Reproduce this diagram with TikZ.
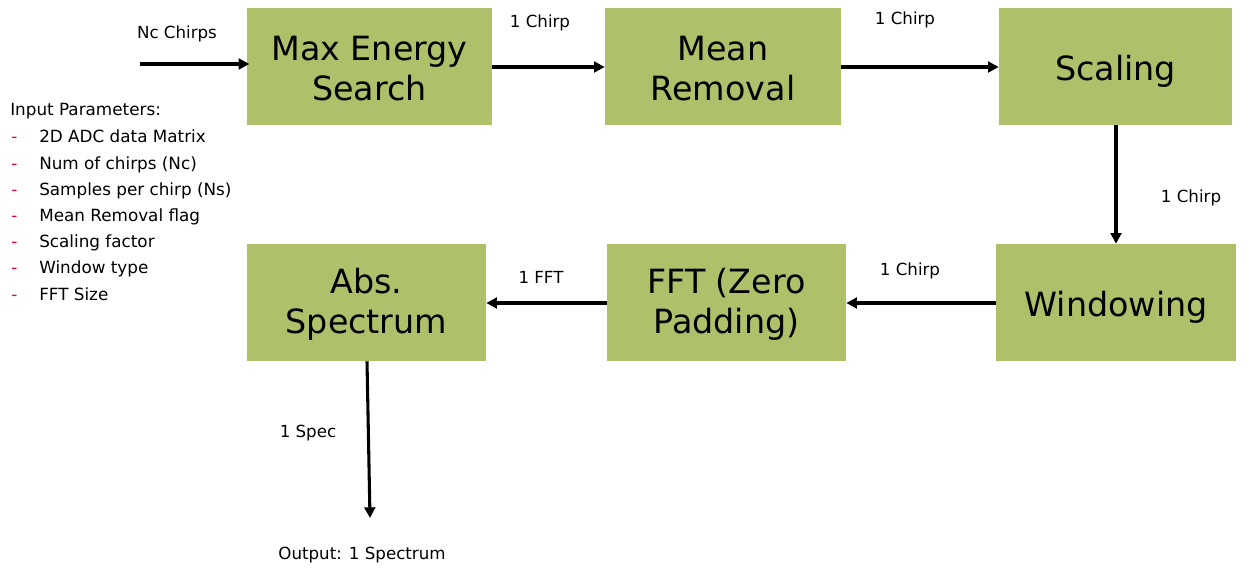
\documentclass[tikz,border=0pt]{standalone}
\usepackage{fontspec}
\setmainfont{DejaVu Sans}
\usetikzlibrary{arrows.meta}
\definecolor{boxgreen}{RGB}{175,192,107}
\definecolor{dashred}{RGB}{225,0,75}
\begin{document}
\begin{tikzpicture}[x=0.75pt,y=-0.75pt,
  blk/.style={fill=boxgreen,draw=none,inner sep=0pt},
  btxt/.style={inner sep=0pt,align=center,font=\fontsize{25}{30}\selectfont},
  lbl/.style={font=\fontsize{12.5}{15}\selectfont,inner sep=0pt},
  arr/.style={line width=2.3pt,-{Triangle[length=8pt,width=8pt]}},
  par/.style={font=\fontsize{12.6}{15}\selectfont,inner sep=0pt,anchor=base west}]
\useasboundingbox (0,0) rectangle (1249,573);
\node[blk,minimum width=245*0.75pt,minimum height=117*0.75pt] (mes) at (369.5,66.5) {};
\node[blk,minimum width=236*0.75pt,minimum height=117*0.75pt] (mr) at (723,66.5) {};
\node[blk,minimum width=233*0.75pt,minimum height=117*0.75pt] (sc) at (1115.5,66.5) {};
\node[blk,minimum width=240*0.75pt,minimum height=117*0.75pt] (win) at (1116,302.5) {};
\node[blk,minimum width=239*0.75pt,minimum height=117*0.75pt] (fft) at (726.5,302.5) {};
\node[blk,minimum width=239*0.75pt,minimum height=117*0.75pt] (abs) at (366.5,302.5) {};
\node[btxt] (mes-t) at ([yshift=-1.5pt]mes.center) {Max Energy\\Search};
\node[btxt] (mr-t) at ([yshift=-1.5pt]mr.center) {Mean\\Removal};
\node[btxt] (sc-t) at ([yshift=-3.8pt]sc.center) {Scaling};
\node[btxt] (win-t) at ([yshift=-3.8pt]win.center) {Windowing};
\node[btxt] (fft-t) at ([yshift=-1.5pt]fft.center) {FFT (Zero\\Padding)};
\node[btxt] (abs-t) at ([yshift=-1.5pt]abs.center) {Abs.\\Spectrum};
\coordinate (in) at (140,64);
\coordinate (out) at (370,518);
\draw[arr] (in) -- ([xshift=2pt]in -| mes.west);
\draw[arr] (mes.east |- 0,67) -- (mr.west |- 0,67);
\draw[arr] (mr.east |- 0,67) -- (sc.west |- 0,67);
\draw[arr] (sc.south -| 1116,0) -- (win.north -| 1116,0);
\draw[arr] (win.west |- 0,303) -- (fft.east |- 0,303);
\draw[arr] (fft.west |- 0,303) -- (abs.east |- 0,303);
\draw[arr] (abs.south -| 367,0) -- (out);
\node[lbl] (l0) at (177,34) {Nc Chirps};
\node[lbl] (l1) at (540,23) {1 Chirp};
\node[lbl] (l2) at (905,20) {1 Chirp};
\node[lbl] (l3) at (1191,198) {1 Chirp};
\node[lbl] (l4) at (910,271) {1 Chirp};
\node[lbl] (l5) at (541,277) {1 FFT};
\node[lbl] (l6) at (308,433) {1 Spec};
\node[lbl] (l7) at (362,555) {Output: 1 Spectrum};
\node[par] (ip) at (10,116) {Input Parameters:};
\foreach \t [count=\i from 0] in {2D ADC data Matrix,Num of chirps (Nc),Samples per chirp (Ns),Mean Removal flag,Scaling factor,Window type,FFT Size}{
  \node[par,text=dashred] (d\i) at (11,{143+26.2*\i}) {-};
  \node[par] (p\i) at (39,{143+26.2*\i}) {\t};
}
\end{tikzpicture}
\end{document}
